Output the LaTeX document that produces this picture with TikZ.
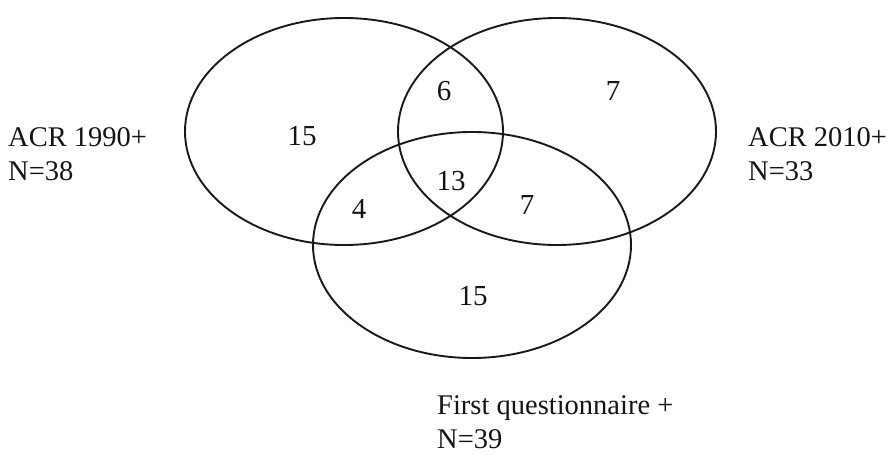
\documentclass[tikz,border=0pt]{standalone}
\usepackage{fontspec}
\setmainfont{Liberation Serif}
\begin{document}
\begin{tikzpicture}[x=1pt,y=-1pt,
  setline/.style={draw=black!90,line width=1.9pt},
  numlbl/.style={inner sep=0pt,text=black!92,font=\fontsize{29}{35}\selectfont},
  setlbl/.style={inner sep=0pt,anchor=north west,align=left,text=black!92,font=\fontsize{28.5}{34}\selectfont}]
\useasboundingbox (0,0) rectangle (889,455);
% sets
\draw[setline] (344,131.5) ellipse [x radius=159pt, y radius=113.5pt];
\draw[setline] (557,131.5) ellipse [x radius=159pt, y radius=113.5pt];
\draw[setline] (472,245) ellipse [x radius=159pt, y radius=113pt];
% region counts
\node[numlbl] (a)   at (302,136.5) {15};
\node[numlbl] (ab)  at (444,91)    {6};
\node[numlbl] (b)   at (613,91)    {7};
\node[numlbl] (abc) at (451,181)   {13};
\node[numlbl] (ac)  at (359,209)   {4};
\node[numlbl] (bc)  at (527,205)   {7};
\node[numlbl] (c)   at (473,296)   {15};
% set labels
\node[setlbl] (la) at (8,127.5)   {ACR 1990+\\N=38};
\node[setlbl] (lb) at (748,127.5) {ACR 2010+\\N=33};
\node[setlbl] (lc) at (437,395) {First questionnaire +\\N=39};
\end{tikzpicture}
\end{document}
